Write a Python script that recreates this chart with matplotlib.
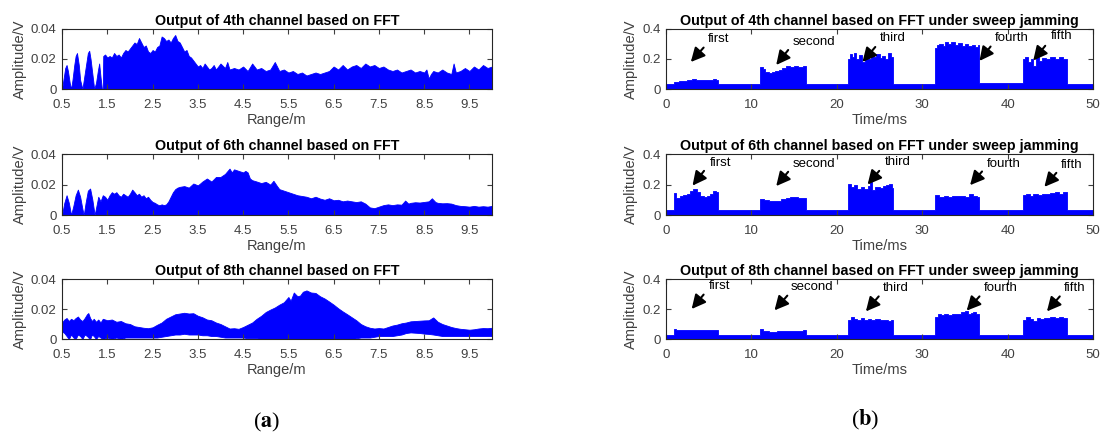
"""FFT channel outputs: range profiles (a) and sweep-jamming time traces (b), 4th/6th/8th channel."""
import numpy as np
import matplotlib; matplotlib.use("Agg"); import matplotlib.pyplot as plt

plt.rcParams['font.family'] = ['Liberation Sans', 'DejaVu Sans']

# ---- (a) range profiles: sample positions (m) and upper envelope (V)
r4 = [0.50,0.53,0.57,0.60,0.63,0.67,0.70,0.73,0.77,0.80,0.83,0.87,0.90,0.95,0.99,1.03,1.07,1.10,1.13,1.17,
      1.21,1.25,1.29,1.32,1.35,1.38,1.40,1.41,1.45,1.50,1.55,1.60,1.65,1.70,1.75,1.80,1.85,1.90,1.95,2.00,
      2.05,2.10,2.15,2.20,2.25,2.30,2.35,2.40,2.45,2.50,2.55,2.60,2.65,2.70,2.75,2.80,2.85,2.90,2.95,3.00,
      3.05,3.10,3.15,3.20,3.25,3.30,3.35,3.40,3.45,3.50,3.55,3.60,3.65,3.70,3.75,3.80,3.85,3.90,3.95,4.00,
      4.10,4.15,4.20,4.30,4.40,4.50,4.60,4.70,4.80,4.90,5.00,5.10,5.20,5.30,5.40,5.50,5.60,5.70,5.80,5.90,
      6.00,6.10,6.20,6.30,6.40,6.50,6.60,6.70,6.80,6.90,7.00,7.10,7.20,7.30,7.40,7.50,7.60,7.70,7.80,7.90,
      8.00,8.10,8.20,8.30,8.40,8.50,8.55,8.60,8.65,8.70,8.80,8.90,9.00,9.10,9.15,9.20,9.30,9.40,9.50,9.60,
      9.70,9.80,9.90,10.00]
a4 = [0.000,0.006,0.014,0.016,0.012,0.004,0.000,0.006,0.016,0.022,0.024,0.016,0.006,0.000,0.008,0.016,0.024,0.0255,0.020,0.010,
      0.000,0.004,0.012,0.017,0.008,0.000,0.000,0.022,0.023,0.021,0.022,0.021,0.024,0.022,0.023,0.021,0.024,0.026,0.025,0.027,
      0.029,0.031,0.030,0.034,0.031,0.028,0.029,0.025,0.024,0.026,0.025,0.028,0.029,0.035,0.034,0.032,0.033,0.031,0.034,0.036,
      0.032,0.031,0.028,0.025,0.026,0.022,0.021,0.019,0.017,0.015,0.016,0.014,0.017,0.015,0.013,0.014,0.016,0.013,0.015,0.017,
      0.014,0.018,0.013,0.014,0.013,0.015,0.012,0.017,0.013,0.014,0.012,0.013,0.018,0.012,0.013,0.011,0.012,0.010,0.011,0.009,
      0.010,0.011,0.010,0.011,0.012,0.015,0.013,0.016,0.013,0.015,0.016,0.014,0.017,0.015,0.016,0.014,0.015,0.013,0.012,0.013,
      0.011,0.012,0.013,0.011,0.012,0.011,0.013,0.007,0.010,0.012,0.011,0.013,0.011,0.010,0.017,0.011,0.012,0.014,0.012,0.015,
      0.013,0.016,0.014,0.015]

r6 = [0.50,0.55,0.60,0.65,0.70,0.75,0.80,0.85,0.90,0.95,0.98,1.02,1.07,1.12,1.17,1.22,1.26,1.30,1.35,1.40,
      1.45,1.50,1.55,1.60,1.65,1.70,1.75,1.80,1.85,1.90,1.95,2.00,2.05,2.10,2.15,2.20,2.25,2.30,2.35,2.40,
      2.45,2.50,2.55,2.60,2.65,2.70,2.75,2.80,2.85,2.90,2.95,3.00,3.05,3.10,3.20,3.30,3.40,3.50,3.55,3.60,
      3.70,3.80,3.90,4.00,4.10,4.20,4.25,4.30,4.40,4.50,4.55,4.60,4.65,4.70,4.80,4.90,5.00,5.10,5.17,5.25,
      5.30,5.40,5.50,5.60,5.70,5.80,5.90,6.00,6.10,6.20,6.30,6.40,6.50,6.60,6.70,6.80,6.90,7.00,7.10,7.20,
      7.30,7.40,7.50,7.60,7.70,7.80,7.90,8.00,8.08,8.15,8.20,8.30,8.40,8.50,8.60,8.67,8.75,8.80,8.90,9.00,
      9.10,9.20,9.30,9.40,9.50,9.60,9.70,9.80,9.90,10.00]
a6 = [0.000,0.008,0.013,0.008,0.000,0.006,0.013,0.0167,0.012,0.004,0.000,0.008,0.016,0.0174,0.010,0.000,0.006,0.012,0.009,0.013,
      0.012,0.010,0.013,0.015,0.014,0.015,0.013,0.012,0.014,0.013,0.012,0.014,0.0167,0.015,0.013,0.014,0.012,0.013,0.011,0.012,
      0.010,0.0086,0.008,0.007,0.0064,0.007,0.0065,0.007,0.009,0.012,0.015,0.017,0.018,0.0185,0.019,0.018,0.0207,0.0195,0.0207,0.022,
      0.024,0.022,0.025,0.025,0.027,0.0305,0.028,0.030,0.029,0.028,0.029,0.028,0.024,0.0229,0.022,0.021,0.0218,0.020,0.0225,0.019,
      0.017,0.016,0.015,0.014,0.013,0.0125,0.012,0.011,0.012,0.0108,0.010,0.011,0.0097,0.010,0.009,0.0095,0.009,0.0085,0.009,0.0075,
      0.005,0.0045,0.0055,0.0065,0.007,0.0065,0.007,0.0068,0.0095,0.0075,0.008,0.0084,0.0082,0.0086,0.009,0.011,0.0085,0.008,0.0077,0.0078,
      0.0075,0.0065,0.006,0.0058,0.0055,0.006,0.0055,0.0058,0.0055,0.006]

r8 = [0.50,0.55,0.60,0.65,0.70,0.75,0.80,0.85,0.90,0.95,1.00,1.05,1.08,1.12,1.16,1.20,1.25,1.30,1.35,1.40,
      1.50,1.60,1.70,1.80,1.90,2.00,2.10,2.20,2.30,2.40,2.50,2.60,2.70,2.80,2.90,3.00,3.10,3.20,3.30,3.40,
      3.50,3.60,3.70,3.80,3.90,4.00,4.10,4.20,4.30,4.40,4.50,4.60,4.70,4.80,4.90,5.00,5.10,5.20,5.30,5.40,
      5.50,5.55,5.62,5.70,5.76,5.82,5.90,6.00,6.10,6.20,6.30,6.40,6.50,6.60,6.70,6.80,6.90,7.00,7.10,7.20,
      7.30,7.40,7.50,7.60,7.70,7.80,7.90,8.00,8.10,8.20,8.30,8.40,8.50,8.60,8.70,8.80,8.90,9.00,9.10,9.20,
      9.30,9.40,9.50,9.60,9.70,9.80,9.90,10.00]
a8_hi = [0.0110,0.0130,0.0140,0.0120,0.0135,0.0125,0.0140,0.0150,0.0130,0.0120,0.0140,0.0165,0.0173,0.0140,0.0120,0.0135,0.0115,0.0130,0.0110,0.0135,
         0.0125,0.0130,0.0115,0.0120,0.0105,0.0100,0.0085,0.0080,0.0075,0.0072,0.0078,0.0095,0.0110,0.0135,0.0150,0.0165,0.0170,0.0175,0.0170,0.0172,
         0.0155,0.0145,0.0130,0.0125,0.0110,0.0100,0.0085,0.0070,0.0072,0.0068,0.0080,0.0095,0.0110,0.0135,0.0155,0.0180,0.0196,0.0210,0.0229,0.0245,
         0.0280,0.0255,0.0310,0.0285,0.0290,0.0315,0.0324,0.0310,0.0307,0.0285,0.0270,0.0250,0.0229,0.0205,0.0184,0.0165,0.0145,0.0125,0.0100,0.0085,
         0.0075,0.0070,0.0073,0.0070,0.0080,0.0090,0.0096,0.0105,0.0110,0.0118,0.0120,0.0122,0.0124,0.0125,0.0144,0.0115,0.0100,0.0090,0.0080,0.0073,
         0.0068,0.0065,0.0062,0.0065,0.0070,0.0073,0.0072,0.0075]
a8_lo = [0.0050,0.0040,0.0020,0.0000,0.0030,0.0010,0.0000,0.0030,0.0020,0.0000,0.0030,0.0020,0.0010,0.0000,0.0030,0.0020,0.0000,0.0020,0.0010,0.0000,
         0.0010,0.0000,0.0010,0.0000,0.0010,0.0010,0.0010,0.0010,0.0010,0.0010,0.0010,0.0010,0.0015,0.0020,0.0025,0.0030,0.0030,0.0035,0.0030,0.0030,
         0.0030,0.0025,0.0025,0.0020,0.0020,0.0015,0.0010,0.0010,0.0010,0.0010,0.0010,0.0005,0.0005,0.0005,0.0000,0.0000,0.0000,0.0000,0.0000,0.0000,
         0.0000,0.0000,0.0000,0.0000,0.0000,0.0000,0.0000,0.0000,0.0000,0.0000,0.0000,0.0000,0.0000,0.0000,0.0000,0.0000,0.0000,0.0005,0.0010,0.0010,
         0.0010,0.0015,0.0020,0.0020,0.0020,0.0020,0.0025,0.0030,0.0040,0.0044,0.0042,0.0040,0.0036,0.0034,0.0030,0.0025,0.0020,0.0020,0.0020,0.0020,
         0.0020,0.0020,0.0020,0.0020,0.0020,0.0020,0.0020,0.0020]

# ---- (b) sweep jamming: breakpoints (ms) and level (V), held until the next breakpoint
t4 = [0,0.9,1.5,2.0,2.5,3.0,3.5,4.0,4.5,5.0,5.5,5.8,6.05,
      11.0,11.3,11.6,12.0,12.4,12.8,13.2,13.6,14.0,14.5,15.0,15.5,16.0,16.4,
      21.3,21.5,21.8,22.0,22.3,22.6,23.0,23.3,23.6,24.0,24.3,24.6,25.0,25.3,25.6,26.0,26.3,26.6,
      31.45,31.7,32.0,32.4,32.7,33.0,33.4,33.8,34.2,34.6,35.0,35.4,35.8,36.2,36.5,36.7,
      41.76,42.0,42.4,42.7,43.0,43.3,43.7,44.0,44.5,45.0,45.5,46.0,46.5,46.95,50.0]
b4 = [0.036,0.050,0.052,0.056,0.060,0.066,0.062,0.060,0.057,0.060,0.066,0.063,0.036,
      0.145,0.130,0.115,0.105,0.110,0.118,0.128,0.138,0.150,0.145,0.152,0.148,0.150,0.036,
      0.200,0.230,0.215,0.240,0.200,0.225,0.180,0.230,0.200,0.240,0.215,0.230,0.205,0.220,0.200,0.240,0.210,0.036,
      0.270,0.290,0.300,0.285,0.315,0.300,0.310,0.290,0.305,0.285,0.300,0.285,0.290,0.280,0.290,0.040,
      0.200,0.215,0.180,0.200,0.155,0.210,0.185,0.205,0.200,0.215,0.200,0.210,0.200,0.035,0.035]

t6 = [0,0.9,1.2,1.6,2.0,2.4,2.8,3.2,3.6,4.0,4.4,4.8,5.2,5.5,5.8,6.05,
      11.0,11.5,12.0,12.5,13.0,13.5,14.0,14.5,15.0,15.5,16.0,16.4,
      21.3,21.7,22.0,22.4,22.8,23.2,23.6,23.9,24.1,24.5,25.0,25.4,25.8,26.1,26.4,26.6,
      31.5,32.0,32.5,33.0,33.5,34.0,34.5,35.0,35.5,36.0,36.4,36.7,
      41.8,42.2,42.6,43.0,43.5,44.0,44.5,45.0,45.5,46.0,46.5,46.9,50.0]
b6 = [0.035,0.145,0.110,0.125,0.130,0.140,0.155,0.168,0.150,0.125,0.120,0.128,0.140,0.155,0.150,0.035,
      0.103,0.098,0.092,0.090,0.095,0.105,0.112,0.120,0.118,0.112,0.115,0.035,
      0.207,0.185,0.195,0.172,0.185,0.170,0.190,0.215,0.165,0.185,0.180,0.190,0.195,0.205,0.175,0.035,
      0.130,0.120,0.125,0.120,0.128,0.122,0.126,0.120,0.135,0.122,0.120,0.035,
      0.130,0.135,0.128,0.140,0.132,0.138,0.140,0.145,0.150,0.140,0.148,0.035,0.035]

t8 = [0,0.9,1.2,2.0,3.0,4.0,5.0,5.6,6.05,
      11.0,11.3,12.0,13.0,14.0,15.0,16.0,16.4,
      21.3,21.7,22.0,22.4,22.8,23.2,23.6,24.0,24.5,25.0,25.5,26.0,26.3,26.6,
      31.5,31.8,32.2,32.6,33.0,33.5,34.0,34.5,35.0,35.3,35.7,36.0,36.3,36.7,
      41.8,42.2,42.6,43.0,43.4,43.8,44.2,44.6,45.0,45.5,46.0,46.5,46.9,50.0]
b8 = [0.030,0.070,0.058,0.060,0.063,0.060,0.058,0.062,0.030,
      0.065,0.052,0.050,0.052,0.055,0.056,0.057,0.030,
      0.125,0.150,0.135,0.130,0.140,0.128,0.135,0.130,0.132,0.125,0.128,0.122,0.130,0.030,
      0.150,0.165,0.160,0.168,0.162,0.170,0.165,0.178,0.188,0.170,0.175,0.182,0.165,0.030,
      0.130,0.150,0.135,0.120,0.140,0.135,0.142,0.138,0.150,0.142,0.145,0.140,0.030,0.030]

names = ['first','second','third','fourth','fifth']
channels = ['4th','6th','8th']

BLUE = '#0000ff'; GREY = '#404040'

def style(ax, xlim, ylim, xticks, yticks, ytl, xlabel):
    ax.set_xlim(*xlim); ax.set_ylim(*ylim)
    ax.set_xticks(xticks); ax.set_yticks(yticks); ax.set_yticklabels(ytl)
    ax.tick_params(direction='in', top=True, right=True, length=3.5, width=0.8,
                   labelsize=9.5, colors=GREY, labelcolor=GREY)
    ax.tick_params(axis='x', pad=7.5)
    ax.tick_params(axis='y', pad=4)
    for s in ax.spines.values():
        s.set_linewidth(0.8); s.set_color('#262626')
    ax.set_xlabel(xlabel, fontsize=10.5, color=GREY, labelpad=1)
    ax.set_ylabel('Amplitude/V', fontsize=10.5, color=GREY, labelpad=3)

def main():
    fig = plt.figure(figsize=(11.06, 4.38), dpi=100)
    rows = [(0.7968, 0.137), (0.5091, 0.139), (0.2260, 0.137)]
    left = [(r4, a4, None), (r6, a6, None), (r8, a8_hi, a8_lo)]
    right = [(t4, b4), (t6, b6), (t8, b8)]
    # annotation layout per right-hand panel: (text x, text y, arrow tail, arrow head)
    ann = [
        [(6.1,0.33,(4.4,0.276),(2.9,0.18)), (17.3,0.315,(14.3,0.26),(12.9,0.16)),
         (26.6,0.337,(24.5,0.28),(23.0,0.18)), (40.5,0.337,(38.0,0.283),(36.7,0.187)),
         (46.3,0.35,(44.4,0.288),(43.0,0.19))],
        [(6.4,0.343,(4.45,0.29),(3.1,0.193)), (17.3,0.338,(14.3,0.284),(12.9,0.19)),
         (27.1,0.35,(24.96,0.29),(23.6,0.2)), (39.5,0.338,(37.0,0.286),(35.6,0.196)),
         (47.5,0.327,(45.7,0.277),(44.3,0.185))],
        [(6.25,0.351,(4.4,0.296),(3.0,0.2)), (17.1,0.347,(14.2,0.289),(12.7,0.191)),
         (26.9,0.34,(24.9,0.284),(23.4,0.184)), (39.2,0.34,(36.7,0.284),(35.2,0.189)),
         (47.9,0.34,(46.1,0.284),(44.6,0.184))],
    ]
    for i, (b, h) in enumerate(rows):
        ax = fig.add_axes([0.0561, b, 0.3888, h])
        x, hi, lo = left[i]
        lo = np.zeros(len(x)) if lo is None else np.asarray(lo)
        ax.fill_between(x, lo, hi, color=BLUE, lw=0.6)
        style(ax, (0.5, 10), (0, 0.04), np.arange(0.5, 10, 1.0), [0, 0.02, 0.04],
              ['0', '0.02', '0.04'], 'Range/m')
        ax.set_title(f'Output of {channels[i]} channel based on FFT', fontsize=10.3,
                     fontweight='bold', pad=3)

        ax = fig.add_axes([0.6022, b, 0.3861, h])
        t, v = right[i]
        ax.fill_between(t, 0, v, step='post', color=BLUE, lw=0.6)
        style(ax, (0, 50), (0, 0.4), np.arange(0, 51, 10), [0, 0.2, 0.4],
              ['0', '0.2', '0.4'], 'Time/ms')
        ax.set_title(f'Output of {channels[i]} channel based on FFT under sweep jamming',
                     fontsize=10.3, fontweight='bold', pad=3)
        for name, (tx, ty, tail, head) in zip(names, ann[i]):
            ax.annotate('', xy=head, xytext=tail,
                        arrowprops=dict(arrowstyle='-|>,head_length=0.6,head_width=0.3',
                                        color='k', lw=1.5, mutation_scale=14,
                                        shrinkA=0, shrinkB=0))
            ax.text(tx, ty, name, ha='center', va='center', fontsize=9.5, color='k')

    fig.text(0.2414, 0.036, r'($\mathbf{a}$)', ha='center', va='center', fontsize=16,
             family='Liberation Serif', math_fontfamily='stix')
    fig.text(0.7821, 0.042, r'($\mathbf{b}$)', ha='center', va='center', fontsize=16,
             family='Liberation Serif', math_fontfamily='stix')
    fig.savefig('out.png', dpi=100)
    plt.close(fig)

if __name__ == '__main__':
    main()
